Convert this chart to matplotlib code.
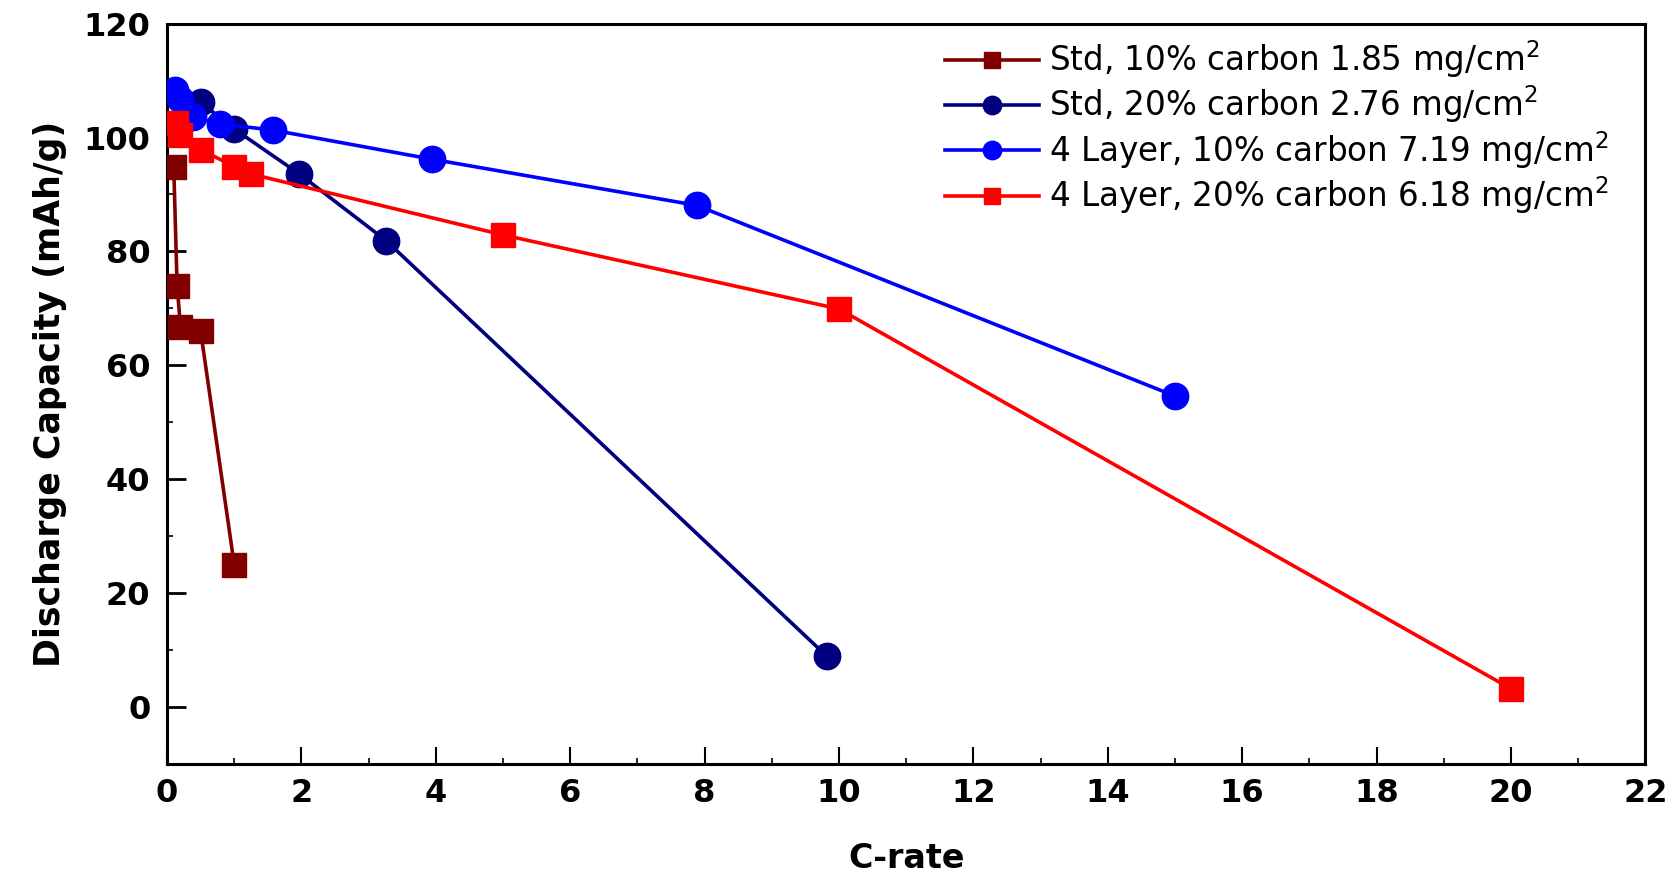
import matplotlib
matplotlib.use('Agg')
import matplotlib.pyplot as plt
from matplotlib.ticker import MultipleLocator

# discharge capacity vs C-rate
std10_x = [0.10, 0.15, 0.20, 0.50, 1.00]
std10_y = [94.8, 74.0, 66.8, 66.0, 25.0]

std20_x = [0.50, 1.00, 1.97, 3.26, 9.82]
std20_y = [106.2, 101.5, 93.6, 81.9, 8.9]

l4c10_x = [0.12, 0.19, 0.39, 0.79, 1.58, 3.94, 7.88, 15.0]
l4c10_y = [108.3, 106.8, 103.6, 102.4, 101.3, 96.2, 88.1, 54.6]

l4c20_x = [0.13, 0.20, 0.50, 1.00, 1.25, 5.0, 10.0, 20.0]
l4c20_y = [102.5, 100.5, 97.9, 94.9, 93.6, 82.9, 69.9, 3.2]

labels = ['Std, 10% carbon 1.85 mg/cm$^2$',
          'Std, 20% carbon 2.76 mg/cm$^2$',
          '4 Layer, 10% carbon 7.19 mg/cm$^2$',
          '4 Layer, 20% carbon 6.18 mg/cm$^2$']

fig = plt.figure(figsize=(16.77, 8.77), dpi=100)
ax = fig.add_axes([0.0996, 0.129, 0.8815, 0.844])

ax.plot(std10_x, std10_y, color='#800000', lw=2.6, marker='s', ms=17, label=labels[0], zorder=5)
ax.plot(std20_x, std20_y, color='#000080', lw=2.6, marker='o', ms=19, label=labels[1], zorder=2)
ax.plot(l4c10_x, l4c10_y, color='#0000ff', lw=2.6, marker='o', ms=19, label=labels[2], zorder=3)
ax.plot(l4c20_x, l4c20_y, color='#ff0000', lw=2.6, marker='s', ms=17, label=labels[3], zorder=4)

ax.set_xlim(0, 22)
ax.set_ylim(-10, 120)
ax.xaxis.set_major_locator(MultipleLocator(2))
ax.xaxis.set_minor_locator(MultipleLocator(1))
ax.yaxis.set_minor_locator(MultipleLocator(10))
ax.set_yticks(range(0, 121, 20))

ax.tick_params(axis='both', which='both', direction='in', top=False, right=False)
ax.tick_params(axis='y', which='major', length=14, width=2, pad=12)
ax.tick_params(axis='y', which='minor', length=4, width=1.2)
ax.tick_params(axis='x', which='major', length=12, width=1.5, pad=10)
ax.tick_params(axis='x', which='minor', length=4, width=1.2)
for s in ax.spines.values():
    s.set_linewidth(2.2)

for t in ax.get_yticklabels():
    t.set_fontweight('bold')
    t.set_fontsize(23)
for t in ax.get_xticklabels():
    t.set_fontweight('bold')
    t.set_fontsize(23)

ax.set_xlabel('C-rate', fontweight='bold', fontsize=24, labelpad=24)
ax.set_ylabel('Discharge Capacity (mAh/g)', fontweight='bold', fontsize=25, labelpad=12)

leg = ax.legend(loc='upper right', bbox_to_anchor=(0.995, 1.02), frameon=False,
                prop={'size': 23.5},
                handlelength=2.9, handletextpad=0.3, labelspacing=0.11, markerscale=0.7)

fig.savefig('out.png', dpi=100)
